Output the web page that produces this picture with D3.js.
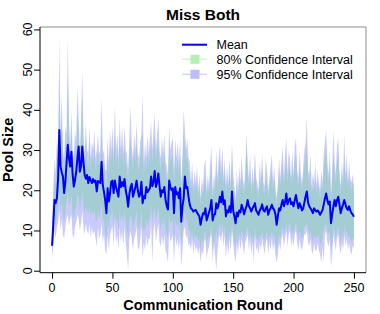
<!DOCTYPE html>
<html lang="en">
<head>
<meta charset="utf-8">
<title>Miss Both</title>
<script src="https://d3js.org/d3.v7.min.js"></script>
<style>
  html, body { margin: 0; padding: 0; background: #fff; }
  svg text { font-family: "Liberation Sans", Arial, Helvetica, sans-serif; fill: #000; }
</style>
</head>
<body>
<div id="chart"></div>
<script>
// mean pool size per communication round (0..250)
var meanVals = [
  6.2, 11.5, 17.6, 16.8, 18, 23, 35, 26, 24.5, 23.4,
  19.3, 22, 26.8, 31.3, 28, 25.9, 29.6, 24, 20.9, 22.5,
  24.6, 28, 30.9, 24.6, 26, 30.9, 27, 23.8, 22.9, 23.8,
  21.8, 23.3, 22.5, 21.8, 22.8, 22, 22.4, 19.7, 22.3, 22,
  21.8, 27.1, 21.2, 19.6, 17.5, 14.3, 20.5, 17.2, 19.2, 22.1,
  22.4, 19.3, 22.4, 20.8, 19.6, 18.4, 23.4, 20.8, 22, 21,
  22.8, 20, 18.4, 15.9, 19, 20.8, 21.6, 18.4, 19.5, 20.8,
  22.4, 20, 18.4, 19, 22.1, 16.8, 18.5, 18, 20.8, 19.5,
  20, 20.5, 23.4, 21, 22, 24.8, 20.8, 22, 24.2, 21,
  18.4, 20, 19.5, 20.8, 17.6, 16, 15.2, 22.4, 20.8, 20,
  20.5, 14.3, 20.8, 19, 19.5, 18, 20.5, 12.2, 16, 18,
  23.4, 20.5, 20.8, 18.4, 16.5, 15.5, 15.2, 14.7, 15, 15.1,
  14.5, 14, 13.5, 11.4, 13, 14.3, 14, 15.5, 12.5, 13.5,
  14.5, 15.5, 17.6, 12.5, 13.9, 14, 16.8, 15.5, 16.5, 18.4,
  17, 19.7, 16.5, 17.5, 13.5, 15, 14.5, 16, 14.5, 19.7,
  15, 13.5, 11.8, 14.5, 13.5, 15, 14.5, 16.4, 15.5, 14,
  15.1, 16, 17.6, 16, 15.5, 14.7, 15.5, 16, 16.8, 15,
  14.5, 13.9, 15, 15.5, 16.5, 15, 14.7, 15.5, 16, 13.9,
  15, 15.5, 16.4, 15.5, 15.1, 14, 11.4, 13.5, 15.5, 15,
  16.5, 17.6, 16, 17, 19.2, 16.5, 17.5, 18, 16.5, 17,
  16, 17.5, 18.8, 17, 15.5, 16.8, 16, 15, 15.5, 17,
  18.5, 19.7, 17, 16, 15.5, 15, 14.3, 15.5, 15, 14.7,
  15, 14.5, 13.9, 14.5, 15.1, 16.5, 18, 19.2, 17.5, 16.5,
  17.2, 11.8, 14, 16, 17.6, 16, 17.5, 18.4, 16.5, 14.3,
  15.5, 16.5, 17.6, 16.5, 15.5, 15.1, 16, 15, 14.3, 14,
  13.4
];

// 95% confidence interval, upper bound
var hi95 = [
  11, 20, 28, 24, 33, 29, 58, 34, 44, 30,
  28, 36, 34, 58, 37, 31, 40, 30, 28, 35,
  32, 46, 38, 30, 37, 50, 34, 29, 37, 30,
  29, 36, 28, 32, 30, 35, 28, 30, 34, 29,
  30, 43, 29, 30, 25, 25, 33, 27, 35, 30,
  36, 29, 41, 30, 34, 28, 38, 30, 36, 29,
  36, 30, 29, 25, 33, 41, 31, 28, 34, 30,
  37, 29, 28, 32, 34, 44, 26, 32, 28, 34,
  29, 33, 37, 30, 35, 39, 30, 34, 38, 30,
  28, 33, 29, 34, 27, 26, 24, 36, 30, 32,
  33, 24, 33, 28, 32, 27, 33, 22, 29, 40,
  35, 30, 33, 28, 27, 22, 27, 21, 25, 22,
  26, 20, 24, 18, 23, 21, 26, 28, 20, 24,
  21, 27, 31, 19, 24, 22, 30, 23, 28, 31,
  25, 31, 23, 28, 21, 26, 22, 28, 22, 32,
  24, 21, 18, 25, 20, 26, 22, 29, 23, 21,
  25, 34, 27, 23, 29, 21, 26, 22, 30, 23,
  22, 20, 27, 23, 29, 22, 21, 28, 25, 20,
  23, 26, 29, 22, 26, 21, 18, 22, 28, 23,
  27, 31, 23, 29, 33, 24, 30, 28, 23, 30,
  24, 31, 33, 25, 23, 30, 24, 22, 26, 30,
  32, 38, 25, 24, 29, 21, 24, 22, 27, 21,
  25, 22, 20, 25, 22, 29, 32, 35, 27, 24,
  30, 19, 25, 35, 27, 24, 31, 33, 25, 21,
  27, 23, 34, 24, 29, 22, 27, 23, 22, 24,
  21
];

// 80% confidence interval, upper bound
var hi80 = [
  9, 17, 24, 21, 28, 25, 47, 30, 38, 27,
  25, 32, 30, 47, 33, 28, 36, 27, 25, 31,
  29, 40, 34, 27, 33, 44, 30, 26, 33, 27,
  26, 32, 25, 29, 27, 31, 25, 27, 30, 26,
  27, 37, 26, 27, 22, 21, 29, 24, 30, 27,
  31, 26, 34, 27, 30, 25, 33, 27, 31, 26,
  31, 27, 26, 22, 29, 33, 28, 25, 30, 27,
  32, 26, 25, 28, 30, 35, 23, 28, 25, 30,
  26, 29, 32, 27, 31, 34, 27, 30, 33, 27,
  25, 29, 26, 30, 24, 23, 21, 31, 27, 28,
  29, 21, 29, 25, 28, 24, 29, 19, 25, 34,
  31, 27, 29, 25, 24, 20, 23, 19, 22, 20,
  22, 18, 21, 16, 20, 19, 22, 24, 18, 21,
  19, 23, 27, 17, 21, 20, 26, 21, 24, 28,
  22, 27, 21, 25, 19, 23, 20, 24, 20, 28,
  21, 19, 16, 22, 18, 23, 20, 25, 21, 19,
  22, 32, 24, 21, 25, 19, 23, 20, 26, 21,
  20, 18, 23, 21, 25, 20, 19, 24, 22, 18,
  21, 23, 25, 20, 23, 19, 16, 20, 24, 21,
  24, 27, 21, 25, 28, 22, 26, 25, 21, 26,
  22, 27, 29, 23, 21, 26, 22, 20, 23, 26,
  28, 31, 23, 22, 25, 19, 21, 20, 23, 19,
  22, 20, 18, 22, 20, 25, 28, 30, 24, 22,
  26, 17, 22, 30, 24, 22, 27, 29, 23, 19,
  24, 21, 29, 22, 25, 20, 24, 21, 20, 22,
  19
];

// 80% confidence interval, lower bound
var lo80 = [
  4, 8, 13, 11, 14, 16, 20, 15, 17, 14,
  12, 15, 17, 20, 16, 17, 19, 14, 13, 15,
  16, 19, 18, 15, 17, 20, 16, 14, 16, 15,
  14, 16, 13, 15, 14, 15, 13, 12, 15, 13,
  14, 17, 12, 13, 9, 8, 13, 10, 13, 14,
  15, 11, 15, 12, 13, 10, 15, 12, 14, 12,
  15, 12, 10, 8, 12, 14, 13, 10, 12, 13,
  15, 11, 10, 12, 15, 9, 11, 10, 13, 11,
  12, 13, 16, 12, 14, 16, 12, 14, 16, 12,
  10, 13, 11, 13, 10, 9, 8, 14, 12, 12,
  13, 7, 13, 11, 12, 10, 13, 6, 9, 14,
  15, 12, 13, 10, 10, 8, 10, 7, 9, 8,
  9, 7, 8, 5, 8, 7, 9, 10, 6, 8,
  8, 10, 11, 5, 9, 7, 10, 8, 10, 12,
  9, 12, 9, 11, 6, 9, 7, 10, 8, 12,
  9, 7, 5, 9, 7, 10, 8, 10, 9, 7,
  9, 10, 11, 8, 10, 7, 9, 6, 11, 8,
  8, 7, 9, 8, 10, 8, 7, 9, 10, 7,
  9, 8, 10, 8, 9, 7, 5, 7, 9, 8,
  10, 11, 9, 10, 12, 9, 11, 12, 9, 10,
  9, 11, 12, 10, 8, 10, 9, 8, 9, 11,
  11, 12, 10, 9, 10, 8, 7, 9, 8, 8,
  9, 8, 7, 6, 9, 10, 11, 12, 10, 9,
  10, 5, 7, 11, 10, 8, 10, 11, 9, 7,
  9, 8, 11, 9, 10, 8, 9, 8, 7, 8,
  8
];

// 95% confidence interval, lower bound
var lo95 = [
  3, 6, 10, 8, 11, 12, 15, 10, 13, 9,
  8, 11, 13, 14, 11, 13, 14, 9, 8, 11,
  12, 14, 13, 10, 12, 15, 11, 9, 12, 10,
  9, 12, 8, 11, 9, 10, 8, 6, 11, 8,
  9, 12, 7, 9, 5, 4, 9, 5, 9, 10,
  11, 6, 12, 7, 9, 5, 11, 7, 10, 6,
  11, 7, 4, 0, 8, 10, 8, 5, 8, 9,
  11, 6, 5, 8, 11, 3, 7, 5, 9, 6,
  8, 8, 12, 2, 10, 12, 7, 10, 12, 7,
  6, 9, 6, 9, 5, 4, 2, 10, 7, 8,
  9, 2, 9, 6, 8, 5, 9, 1, 5, 10,
  11, 8, 9, 6, 7, 5, 8, 4, 7, 5,
  6, 4, 6, 2, 5, 4, 7, 8, 3, 5,
  6, 8, 9, 2, 7, 4, 0, 5, 8, 9,
  7, 10, 6, 9, 3, 7, 4, 8, 5, 10,
  7, 4, 2, 7, 4, 8, 5, 8, 6, 4,
  7, 8, 9, 5, 8, 4, 7, 2, 9, 5,
  6, 4, 7, 5, 8, 6, 4, 7, 8, 4,
  7, 5, 8, 5, 7, 4, 2, 4, 7, 5,
  8, 9, 6, 8, 10, 6, 9, 10, 6, 8,
  6, 9, 10, 7, 5, 8, 6, 5, 7, 9,
  9, 10, 7, 6, 8, 5, 4, 7, 5, 5,
  7, 5, 4, 2, 6, 2, 9, 10, 7, 6,
  8, 1, 4, 9, 7, 5, 8, 9, 6, 4,
  7, 5, 9, 6, 8, 5, 7, 5, 4, 6,
  6
];

var xTicks = [0, 50, 100, 150, 200, 250];
var yTicks = [0, 10, 20, 30, 40, 50, 60];
var legendLabels = ["Mean", "80% Confidence Interval", "95% Confidence Interval"];

var width = 380, height = 314;
var plot = {left: 40, right: 366, top: 27, bottom: 272.7};

var col = {
  mean: "#0000ff",
  ci80: "#a3cdd3",
  ci95: "#cacafb",
  leg80: "#b4f0b4",
  leg80line: "#d2f6d2",
  leg95: "#bcbcf8",
  leg95line: "#d6d6fa"
};

var data = meanVals.map(function(m, i) {
  return {round: i, mean: m, lo95: lo95[i], hi95: hi95[i], lo80: lo80[i], hi80: hi80[i]};
});

var x = d3.scaleLinear().domain([-10, 260]).range([plot.left, plot.right]);
var y = d3.scaleLinear().domain([-0.5, 60.6]).range([plot.bottom, plot.top]);

var svg = d3.select("#chart").append("svg")
    .attr("width", width)
    .attr("height", height);

// confidence bands
var area95 = d3.area()
    .x(function(d) { return x(d.round); })
    .y0(function(d) { return y(d.lo95); })
    .y1(function(d) { return y(d.hi95); });
var area80 = d3.area()
    .x(function(d) { return x(d.round); })
    .y0(function(d) { return y(d.lo80); })
    .y1(function(d) { return y(d.hi80); });

svg.append("path").datum(data)
    .attr("d", area95)
    .attr("fill", col.ci95);
svg.append("path").datum(data)
    .attr("d", area80)
    .attr("fill", col.ci80);

// mean line
var line = d3.line()
    .x(function(d) { return x(d.round); })
    .y(function(d) { return y(d.mean); });
svg.append("path").datum(data)
    .attr("d", line)
    .attr("fill", "none")
    .attr("stroke", col.mean)
    .attr("stroke-width", 2)
    .attr("stroke-linejoin", "round");

// frame: grey top/right, black left/bottom
svg.append("line")
    .attr("x1", plot.left).attr("x2", plot.right)
    .attr("y1", plot.top).attr("y2", plot.top)
    .attr("stroke", "#8c8c8c");
svg.append("line")
    .attr("x1", plot.right).attr("x2", plot.right)
    .attr("y1", plot.top).attr("y2", plot.bottom)
    .attr("stroke", "#8c8c8c");

// axes
var xAxis = d3.axisBottom(x).tickValues(xTicks).tickSize(6).tickFormat("");
var gx = svg.append("g")
    .attr("transform", "translate(0," + plot.bottom + ")")
    .call(xAxis);
gx.select(".domain").remove();
gx.selectAll("line").attr("stroke", "#000");
gx.append("line")
    .attr("x1", plot.left).attr("x2", plot.right)
    .attr("stroke", "#000");

var yAxis = d3.axisLeft(y).tickValues(yTicks).tickSize(6).tickFormat("");
var gy = svg.append("g")
    .attr("transform", "translate(" + plot.left + ",0)")
    .call(yAxis);
gy.select(".domain").remove();
gy.selectAll("line").attr("stroke", "#000");
gy.append("line")
    .attr("y1", plot.top).attr("y2", plot.bottom)
    .attr("stroke", "#000");

// tick labels
svg.selectAll(".xlab")
    .data(xTicks)
  .enter().append("text")
    .attr("class", "xlab")
    .attr("x", function(d) { return x(d); })
    .attr("y", 291.5)
    .attr("text-anchor", "middle")
    .style("font-size", "12.5px")
    .text(function(d) { return d; });

svg.selectAll(".ylab")
    .data(yTicks)
  .enter().append("text")
    .attr("class", "ylab")
    .attr("transform", function(d) { return "translate(32," + y(d) + ") rotate(-90)"; })
    .attr("text-anchor", "middle")
    .style("font-size", "12.5px")
    .text(function(d) { return d; });

// titles
svg.append("text")
    .attr("x", (plot.left + plot.right) / 2)
    .attr("y", 19.5)
    .attr("text-anchor", "middle")
    .style("font-size", "15.5px")
    .style("font-weight", "bold")
    .text("Miss Both");

svg.append("text")
    .attr("x", (plot.left + plot.right) / 2)
    .attr("y", 310)
    .attr("text-anchor", "middle")
    .style("font-size", "14.5px")
    .style("font-weight", "bold")
    .text("Communication Round");

svg.append("text")
    .attr("transform", "translate(12.5," + (plot.top + plot.bottom) / 2 + ") rotate(-90)")
    .attr("text-anchor", "middle")
    .style("font-size", "14.5px")
    .style("font-weight", "bold")
    .text("Pool Size");

// legend
var legRows = [44.7, 59.3, 74.3];
var leg = svg.append("g");
leg.append("line")
    .attr("x1", 182).attr("x2", 207)
    .attr("y1", legRows[0]).attr("y2", legRows[0])
    .attr("stroke", col.mean).attr("stroke-width", 2);
[[col.leg80line, col.leg80], [col.leg95line, col.leg95]].forEach(function(c, k) {
  var ry = legRows[k + 1];
  leg.append("line")
      .attr("x1", 182).attr("x2", 207)
      .attr("y1", ry).attr("y2", ry)
      .attr("stroke", c[0]).attr("stroke-width", 1.5);
  leg.append("rect")
      .attr("x", 190.5).attr("y", ry - 4.5)
      .attr("width", 9).attr("height", 9)
      .attr("fill", c[1]);
});
leg.selectAll("text")
    .data(legendLabels)
  .enter().append("text")
    .attr("x", 216.5)
    .attr("y", function(d, i) { return legRows[i] + 4.5; })
    .style("font-size", "12.5px")
    .text(function(d) { return d; });
</script>
</body>
</html>
